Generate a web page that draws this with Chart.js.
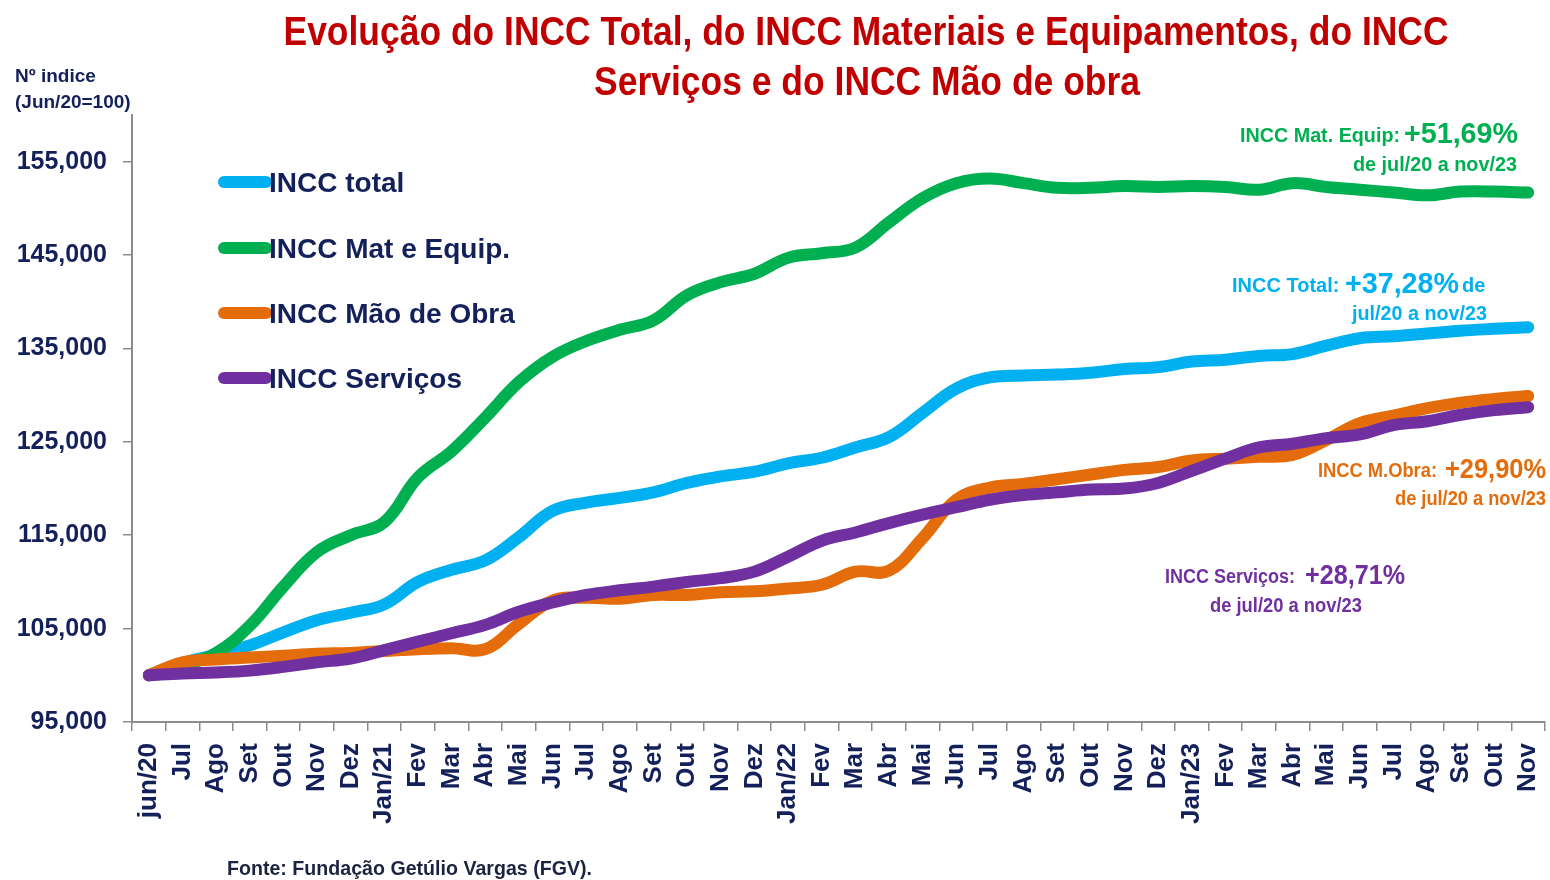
<!DOCTYPE html>
<html>
<head>
<meta charset="utf-8">
<script src="https://cdn.jsdelivr.net/npm/chart.js@4.4.1/dist/chart.umd.min.js"></script>
<style>
  body { margin: 0; background: #fff; }
  #wrap { width: 1550px; height: 880px; }
</style>
</head>
<body>
<div id="wrap"><canvas id="incc"></canvas></div>
<script>
// --- DATA (índice, Jun/20 = 100) ---
const months = ['jun/20', 'Jul', 'Ago', 'Set', 'Out', 'Nov', 'Dez',
  'Jan/21', 'Fev', 'Mar', 'Abr', 'Mai', 'Jun', 'Jul', 'Ago', 'Set', 'Out', 'Nov', 'Dez',
  'Jan/22', 'Fev', 'Mar', 'Abr', 'Mai', 'Jun', 'Jul', 'Ago', 'Set', 'Out', 'Nov', 'Dez',
  'Jan/23', 'Fev', 'Mar', 'Abr', 'Mai', 'Jun', 'Jul', 'Ago', 'Set', 'Out', 'Nov'];

const inccTotal = [100, 101.3, 102.2, 103.2, 104.6, 105.9, 106.7, 107.6, 110.0, 111.3, 112.3,
  114.8, 117.6, 118.5, 119.0, 119.6, 120.6, 121.3, 121.8, 122.7, 123.3, 124.4, 125.5, 128.1,
  130.7, 131.9, 132.1, 132.2, 132.4, 132.8, 133.0, 133.6, 133.8, 134.2, 134.4, 135.3, 136.1,
  136.3, 136.6, 136.9, 137.1, 137.28];

const inccMatEquip = [100, 101.0, 102.4, 105.3, 109.5, 113.2, 115.0, 116.4, 121.2, 124.0, 127.6,
  131.4, 134.1, 135.8, 137.0, 138.0, 140.7, 142.1, 143.0, 144.7, 145.2, 145.8, 148.5, 151.1,
  152.7, 153.2, 152.7, 152.2, 152.2, 152.4, 152.3, 152.4, 152.3, 152.0, 152.7, 152.3, 152.0,
  151.7, 151.4, 151.8, 151.8, 151.69];

const inccMaoObra = [100, 101.4, 101.7, 101.9, 102.1, 102.3, 102.4, 102.6, 102.8, 102.9, 102.8,
  105.5, 108.0, 108.3, 108.2, 108.6, 108.6, 108.9, 109.0, 109.3, 109.7, 111.1, 111.2, 114.7,
  118.8, 120.1, 120.5, 121.0, 121.5, 122.0, 122.3, 123.0, 123.2, 123.4, 123.6, 125.2, 127.0,
  127.8, 128.6, 129.2, 129.6, 129.90];

const inccServicos = [100, 100.2, 100.3, 100.5, 100.9, 101.4, 101.8, 102.7, 103.6, 104.5, 105.4,
  106.8, 107.8, 108.6, 109.1, 109.5, 110.0, 110.4, 111.1, 112.7, 114.4, 115.3, 116.3, 117.2,
  118.0, 118.8, 119.3, 119.6, 119.9, 120.0, 120.6, 121.9, 123.2, 124.4, 124.8, 125.4, 125.8,
  126.8, 127.2, 127.9, 128.4, 128.71];

const yTicks = [95, 105, 115, 125, 135, 145, 155];

const seriesNames = ['INCC total', 'INCC Mat e Equip.', 'INCC Mão de Obra', 'INCC Serviços'];
const seriesColors = ['#00b0f0', '#00b050', '#e46c0a', '#7030a0'];
const variation = ['+37,28%', '+51,69%', '+29,90%', '+28,71%'];

const NAVY = '#14205a';
const FONT = '"Liberation Sans", Arial, sans-serif';

// --- text helper (maxWidth squeezes the Arial-like face to look narrow) ---
function txt(ctx, s, x, y, size, color, w, align) {
  ctx.font = 'bold ' + size + 'px ' + FONT;
  ctx.fillStyle = color;
  ctx.textAlign = align || 'left';
  ctx.textBaseline = 'alphabetic';
  if (w) ctx.fillText(s, x, y, w); else ctx.fillText(s, x, y);
}

// --- titles, legend, notes ---
const decorations = {
  id: 'decorations',
  afterDraw(chart) {
    const ctx = chart.ctx;
    ctx.save();
    // title
    txt(ctx, 'Evolução do INCC Total, do INCC Materiais e Equipamentos, do INCC', 866, 45, 40, '#c00000', 1165, 'center');
    txt(ctx, 'Serviços e do INCC Mão de obra', 867, 95, 40, '#c00000', 546, 'center');
    // axis caption
    txt(ctx, 'Nº indice', 15, 82, 19, NAVY, 88);
    txt(ctx, '(Jun/20=100)', 15, 108, 19, NAVY, 123);
    // source
    txt(ctx, 'Fonte: Fundação Getúlio Vargas (FGV).', 227, 875, 21, '#1c2340', 365);

    // legend
    const legY = [182, 248, 313, 378];
    chart.data.datasets.forEach((ds, i) => {
      ctx.strokeStyle = ds.borderColor;
      ctx.lineWidth = 12;
      ctx.lineCap = 'round';
      ctx.beginPath();
      ctx.moveTo(224, legY[i]);
      ctx.lineTo(266, legY[i]);
      ctx.stroke();
      txt(ctx, ds.label, 269, legY[i] + 10, 28, NAVY);
    });

    // notes at the right
    const c = seriesColors;
    txt(ctx, 'INCC Mat. Equip:', 1240, 142, 20, c[1], 160);
    txt(ctx, variation[1], 1404, 143, 29, c[1], 114);
    txt(ctx, 'de jul/20 a nov/23', 1517, 171, 20, c[1], 164, 'right');

    txt(ctx, 'INCC Total:', 1232, 292, 20, c[0], 108);
    txt(ctx, variation[0], 1345, 293, 29, c[0], 114);
    txt(ctx, 'de', 1462, 292, 20, c[0], 25);
    txt(ctx, 'jul/20 a nov/23', 1487, 320, 20, c[0], 135, 'right');

    txt(ctx, 'INCC M.Obra:', 1318, 477, 20, c[2], 119);
    txt(ctx, variation[2], 1445, 478, 28, c[2], 101);
    txt(ctx, 'de jul/20 a nov/23', 1546, 505, 20, c[2], 151, 'right');

    txt(ctx, 'INCC Serviços:', 1165, 583, 20, c[3], 130);
    txt(ctx, variation[3], 1305, 584, 28, c[3], 100);
    txt(ctx, 'de jul/20 a nov/23', 1210, 612, 20, c[3], 152);
    ctx.restore();
  }
};

const allSeries = [inccTotal, inccMatEquip, inccMaoObra, inccServicos];
const drawOrder = [3, 2, 1, 0]; // lower order is painted on top

const ctx = document.getElementById('incc').getContext('2d');
new Chart(ctx, {
  type: 'line',
  data: {
    labels: months,
    datasets: allSeries.map((vals, i) => ({
      label: seriesNames[i],
      data: vals,
      borderColor: seriesColors[i],
      backgroundColor: seriesColors[i],
      borderWidth: 12,
      borderCapStyle: 'round',
      borderJoinStyle: 'round',
      pointRadius: 0,
      tension: 0.4,
      clip: false,
      order: drawOrder[i]
    }))
  },
  options: {
    responsive: true,
    maintainAspectRatio: false,
    animation: false,
    layout: { padding: { top: 115, right: 5, left: 0, bottom: 0 } },
    plugins: { legend: { display: false }, tooltip: { enabled: false }, title: { display: false } },
    scales: {
      x: {
        offset: true,
        afterFit: s => { s.height = 158; s.paddingLeft = 0; s.paddingRight = 0; },
        grid: { display: true, drawOnChartArea: false, offset: true, tickLength: 9, color: '#8c8c8c', lineWidth: 1.5 },
        border: { color: '#8c8c8c', width: 2 },
        ticks: {
          autoSkip: false, minRotation: 90, maxRotation: 90, padding: 12,
          color: NAVY, font: { family: FONT, size: 26, weight: 'bold' }
        }
      },
      y: {
        min: 95, max: 160,
        afterFit: s => { s.width = 132; },
        afterBuildTicks: s => { s.ticks = yTicks.map(v => ({ value: v })); },
        grid: { display: true, drawOnChartArea: false, tickLength: 9, color: '#8c8c8c', lineWidth: 1.5 },
        border: { color: '#8c8c8c', width: 2 },
        ticks: {
          padding: 16, color: NAVY, font: { family: FONT, size: 25, weight: 'bold' },
          callback: v => v.toFixed(3).replace('.', ',')
        }
      }
    }
  },
  plugins: [decorations]
});
</script>
</body>
</html>
